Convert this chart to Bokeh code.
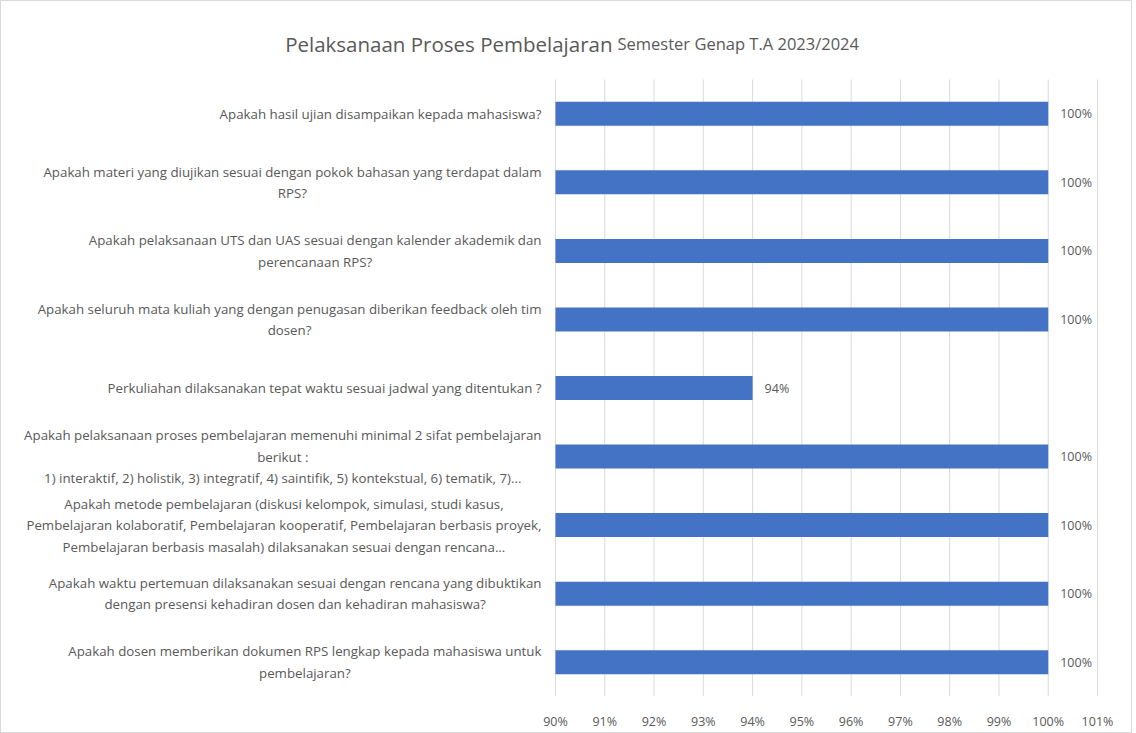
from bokeh.plotting import figure
from bokeh.models import Range1d, FixedTicker, PrintfTickFormatter, ColumnDataSource, Label
from bokeh.core.properties import value
from bokeh.embed import file_html
from bokeh.resources import INLINE

questions = [
    "Apakah hasil ujian disampaikan kepada mahasiswa?",
    "Apakah materi yang diujikan sesuai dengan pokok bahasan yang terdapat dalam\nRPS?",
    "Apakah pelaksanaan UTS dan UAS sesuai dengan kalender akademik dan\nperencanaan RPS?",
    "Apakah seluruh mata kuliah yang dengan penugasan diberikan feedback oleh tim\ndosen?",
    "Perkuliahan dilaksanakan tepat waktu sesuai jadwal yang ditentukan ?",
    "Apakah pelaksanaan proses pembelajaran memenuhi minimal 2 sifat pembelajaran\nberikut :\n1) interaktif, 2) holistik, 3) integratif, 4) saintifik, 5) kontekstual, 6) tematik, 7)...",
    "Apakah metode pembelajaran (diskusi kelompok, simulasi, studi kasus,\nPembelajaran kolaboratif, Pembelajaran kooperatif, Pembelajaran berbasis proyek,\nPembelajaran berbasis masalah) dilaksanakan sesuai dengan rencana...",
    "Apakah waktu pertemuan dilaksanakan sesuai dengan rencana yang dibuktikan\ndengan presensi kehadiran dosen dan kehadiran mahasiswa?",
    "Apakah dosen memberikan dokumen RPS lengkap kepada mahasiswa untuk\npembelajaran?",
]
percent = [100, 100, 100, 100, 94, 100, 100, 100, 100]
tick_values = [90, 91, 92, 93, 94, 95, 96, 97, 98, 99, 100, 101]
title_main = "Pelaksanaan Proses Pembelajaran"
title_sub = "Semester Genap T.A 2023/2024"

FONT = "Open Sans"
TXT = "#595959"

# ---- layout (pixels) ----
W, H = 1132, 733
X_LO, X_HI = 90, 101          # visible value axis
PX_LEFT, PX_RIGHT = 554, 1096  # canvas x of 90% and 101%
ROWS_TOP, ROWS_BOTTOM = 78, 695
n = len(questions)
px_per_pct = (PX_RIGHT - PX_LEFT) / (X_HI - X_LO)
px_per_row = (ROWS_BOTTOM - ROWS_TOP) / n

rows = list(range(n))
src = ColumnDataSource(dict(row=rows, v=percent, lbl=[f"{v}%" for v in percent]))

p = figure(
    width=W, height=H,
    x_range=Range1d(X_LO - PX_LEFT / px_per_pct, X_HI + (W - PX_RIGHT) / px_per_pct),
    y_range=Range1d(n - 0.5, -0.5 - ROWS_TOP / px_per_row),
    output_backend="svg", toolbar_location=None,
    min_border_left=0, min_border_right=0, min_border_top=0, min_border_bottom=H - ROWS_BOTTOM,
)
p.styles = {"border": "1px solid #d9d9d9"}
p.outline_line_color = None
p.yaxis.visible = False
p.xgrid.grid_line_color = None
p.ygrid.grid_line_color = None

# vertical gridlines at the tick values, spanning the rows only
p.segment(x0=tick_values, x1=tick_values, y0=[-0.5] * len(tick_values),
          y1=[n - 0.5] * len(tick_values), line_color="#d9d9d9", line_width=1)

p.hbar(y="row", left=X_LO, right="v", height=0.35, source=src,
       fill_color="#4472C4", line_color=None)
p.text(x="v", y="row", text="lbl", source=src, x_offset=12,
       text_baseline="middle", text_align="left",
       text_font=value(FONT), text_font_size="12.5px", text_color=TXT)

p.xaxis.ticker = FixedTicker(ticks=tick_values)
p.xaxis.formatter = PrintfTickFormatter(format="%d%%")
p.xaxis.axis_line_color = None
p.xaxis.major_tick_line_color = None
p.xaxis.minor_tick_line_color = None
p.xaxis.major_label_standoff = 10
p.xaxis.major_label_text_font = FONT
p.xaxis.major_label_text_font_size = "12.5px"
p.xaxis.major_label_text_color = TXT

# category texts: block right-anchored at the axis, lines centred
for r, q in zip(rows, questions):
    p.add_layout(Label(x=X_LO, y=r, x_offset=-14, text=q, anchor="center_right",
                       text_align="center", text_baseline="middle",
                       text_font=FONT, text_font_size="13.3px", text_color=TXT,
                       text_line_height=1.2))

title_y = -0.5 - 36 / px_per_row
junction = X_LO + 59 / px_per_pct
p.add_layout(Label(x=junction, y=title_y, x_offset=-2,
                   text=title_main, text_align="right",
                   text_baseline="alphabetic", text_font=FONT,
                   text_font_size="20.5px", text_color=TXT))
p.add_layout(Label(x=junction, y=title_y, x_offset=3,
                   text=title_sub, text_align="left",
                   text_baseline="alphabetic", text_font=FONT,
                   text_font_size="16.5px", text_color=TXT))

open("out.html", "w").write(file_html(p, INLINE))
